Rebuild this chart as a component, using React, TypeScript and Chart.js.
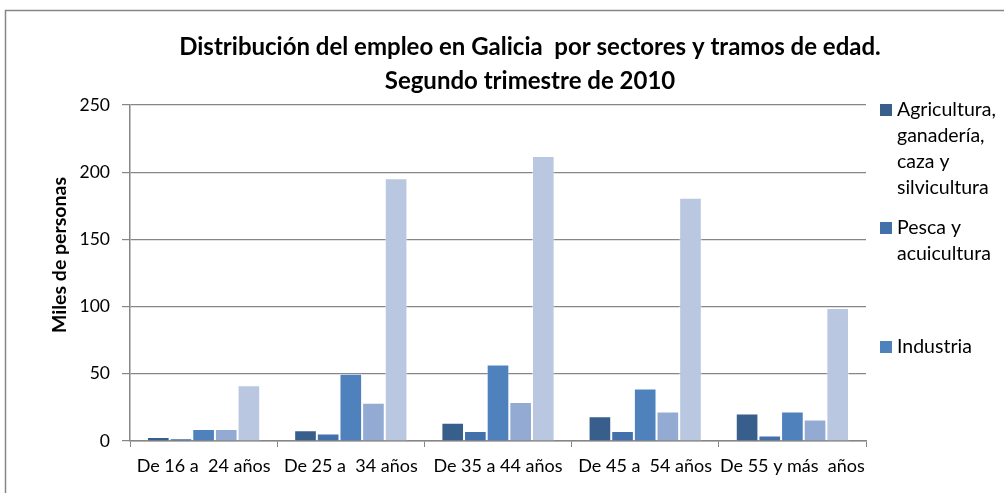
import { useEffect, useRef } from "react";
import { Chart, registerables } from "chart.js";

Chart.register(...registerables);

const categories = [
  "De 16 a  24 años",
  "De 25 a  34 años",
  "De 35 a 44 años",
  "De 45 a  54 años",
  "De 55 y más  años",
];

const seriesNames = [
  "Agricultura, ganadería, caza y silvicultura",
  "Pesca y acuicultura",
  "Industria",
  "Construcción",
  "Servicios",
];

const agricultura = [3, 8, 13.5, 18.5, 20.5];
const pesca = [2, 5.5, 7.5, 7.5, 4];
const industria = [9, 50, 57, 39, 22];
const construccion = [9, 28.5, 29, 22, 16];
const servicios = [41.5, 195.5, 212, 181, 99];

const seriesColors = ["#385E8C", "#4270AA", "#4F81BD", "#93ABD2", "#B9C7E0"];

const legendLines = [
  ["Agricultura,", "ganadería,", "caza y", "silvicultura"],
  ["Pesca y", "acuicultura"],
  ["Industria"],
];

const titleLines = [
  "Distribución del empleo en Galicia  por sectores y tramos de edad.",
  "Segundo trimestre de 2010",
];
const yTitle = "Miles de personas";
const yTicks = { min: 0, max: 250, step: 50 };

const FONT = "Lato, 'Open Sans', sans-serif";
const GRAY = "#868686";

const decorPlugin = {
  id: "decor",
  beforeDraw(chart: any) {
    const ctx = chart.ctx;
    ctx.save();
    ctx.fillStyle = "#ffffff";
    ctx.fillRect(0, 0, chart.width, chart.height);
    ctx.strokeStyle = GRAY;
    ctx.lineWidth = 1.5;
    ctx.strokeRect(5.5, 10.5, 2000, 2000);
    ctx.restore();
  },
  afterDraw(chart: any) {
    const ctx = chart.ctx;
    ctx.save();
    ctx.fillStyle = "#000000";
    ctx.textAlign = "center";
    ctx.textBaseline = "middle";
    ctx.font = `bold 24px ${FONT}`;
    ctx.fillText(titleLines[0], 530, 47);
    ctx.fillText(titleLines[1], 530, 81);

    ctx.save();
    ctx.translate(60, 255);
    ctx.rotate(-Math.PI / 2);
    ctx.font = `bold 19.5px ${FONT}`;
    ctx.fillText(yTitle, 0, 0);
    ctx.restore();

    ctx.textAlign = "left";
    ctx.font = `19.5px ${FONT}`;
    const starts = [110, 228, 347];
    legendLines.forEach((lines, i) => {
      const y0 = starts[i];
      ctx.fillStyle = seriesColors[i];
      ctx.fillRect(880, y0 - 6, 12, 12);
      ctx.fillStyle = "#000000";
      lines.forEach((t, j) => ctx.fillText(t, 897, y0 + j * 26));
    });
    ctx.restore();
  },
};

export default function App() {
  const ref = useRef<HTMLCanvasElement | null>(null);
  useEffect(() => {
    if (!ref.current) return;
    const values = [agricultura, pesca, industria, construccion, servicios];
    const chart = new Chart(ref.current, {
      type: "bar",
      data: {
        labels: categories,
        datasets: seriesNames.map((name, i) => ({
          label: name,
          data: values[i],
          backgroundColor: seriesColors[i],
          borderColor: "rgba(255,255,255,0.45)",
          borderWidth: 1,
          categoryPercentage: 5 / 6.5,
          barPercentage: 1,
        })),
      },
      options: {
        responsive: false,
        animation: false,
        layout: { padding: { top: 105, right: 138, left: 0, bottom: 0 } },
        plugins: {
          legend: { display: false },
          title: { display: false },
          tooltip: { enabled: false },
        },
        scales: {
          x: {
            afterFit: (s: any) => {
              s.height = 52;
            },
            grid: {
              offset: true,
              drawOnChartArea: false,
              tickLength: 6,
              color: GRAY,
            },
            border: { color: GRAY, width: 1.5 },
            ticks: {
              color: "#000000",
              font: { family: FONT, size: 18 },
              padding: 8,
              autoSkip: false,
              maxRotation: 0,
            },
          },
          y: {
            min: yTicks.min,
            max: yTicks.max,
            afterFit: (s: any) => {
              s.width = 130;
            },
            grid: { color: GRAY, tickLength: 8, lineWidth: 1.2 },
            border: { color: GRAY, width: 1.5 },
            ticks: {
              stepSize: yTicks.step,
              color: "#000000",
              font: { family: FONT, size: 17.5 },
              padding: 12,
            },
          },
        },
      },
      plugins: [decorPlugin],
    });
    return () => chart.destroy();
  }, []);
  return (
    <div style={{ position: "absolute", left: 0, top: 0, width: 1004, height: 493 }}>
      <canvas ref={ref} width={1004} height={493} style={{ display: "block" }} />
    </div>
  );
}
